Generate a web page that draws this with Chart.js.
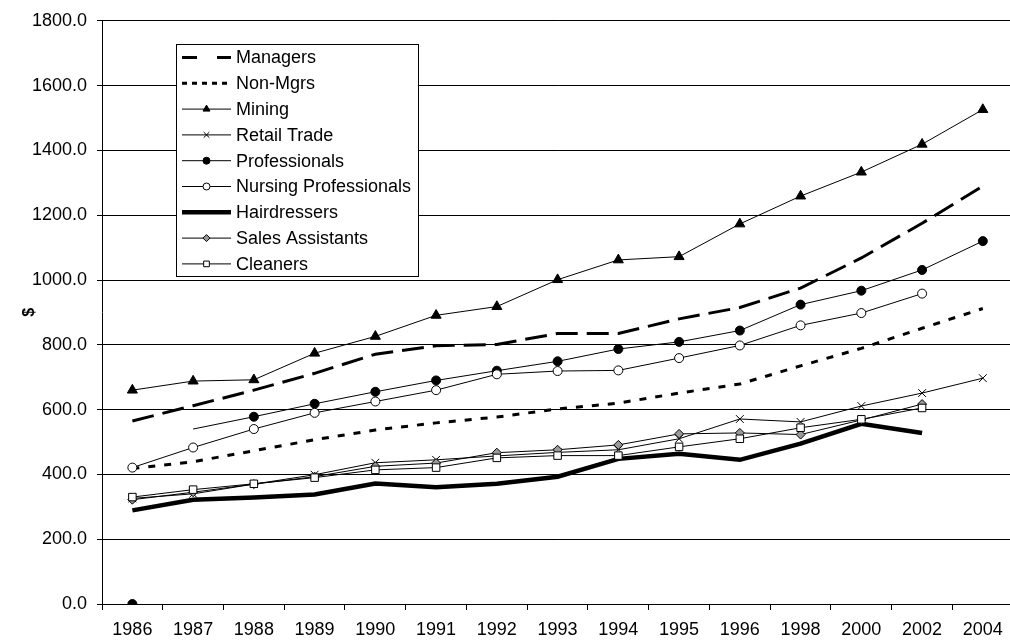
<!DOCTYPE html>
<html>
<head>
<meta charset="utf-8">
<script src="https://cdn.jsdelivr.net/npm/chart.js@4.4.1/dist/chart.umd.min.js"></script>
<style>
    html, body { margin: 0; padding: 0; background: #fff; overflow: hidden; }
    #wrap { width: 1010px; height: 644px; overflow: hidden; }
</style>
</head>
<body>
<div id="wrap"><canvas id="myChart" width="1020" height="644"></canvas></div>
<script>
let years = ['1986', '1987', '1988', '1989', '1990', '1991', '1992', '1993', '1994', '1995', '1996', '1998', '2000', '2002', '2004']

let managers = [565, 612, 660, 712, 771, 797, 801, 835, 835, 880, 915, 975, 1068, 1175, 1290]
let nonMgrs = [418, 439, 473, 507, 537, 559, 577, 602, 620, 651, 679, 735, 789, 851, 912]
let mining = [660, 688, 692, 774, 826, 891, 918, 1001, 1062, 1072, 1173, 1259, 1333, 1419, 1526]
let retail = [326, 340, 370, 399, 436, 445, 457, 468, 476, 510, 571, 562, 611, 651, 697]
let professionals = [0, 540, 578, 618, 655, 690, 720, 749, 787, 809, 844, 924, 967, 1031, 1120]
let nursing = [421, 483, 540, 590, 625, 660, 709, 719, 721, 759, 798, 860, 898, 958, null]
let hairdressers = [289, 322, 329, 338, 372, 360, 371, 393, 448, 464, 445, 495, 556, 528, null]
let sales = [322, 345, 370, 393, 425, 435, 467, 476, 491, 525, 528, 523, 568, 617, null]
let cleaners = [330, 353, 371, 390, 414, 421, 451, 458, 458, 485, 510, 544, 570, 605, null]

let yTicks = { min: 0, max: 1800, step: 200 }

let font = "'Liberation Sans', Arial, sans-serif"
Chart.defaults.font.family = font
Chart.defaults.color = '#000'

let thin = (label, data, style, bg, radius, legendRadius, extra) => Object.assign({
    label: label,
    data: data,
    borderColor: '#000',
    borderWidth: 1,
    pointStyle: style,
    pointRadius: radius,
    pointBackgroundColor: bg,
    pointBorderColor: '#000',
    pointBorderWidth: 1,
    legendRadius: legendRadius,
}, extra || {})

let datasets = [
    { label: 'Managers', data: managers, borderColor: '#000', borderWidth: 3, borderDash: [22, 9], pointRadius: 0, legendDash: [15, 20] },
    { label: 'Non-Mgrs', data: nonMgrs, borderColor: '#000', borderWidth: 3, borderDash: [7, 9], pointRadius: 0, legendDash: [5, 5] },
    thin('Mining', mining, 'triangle', '#000', 5.8, 4),
    thin('Retail Trade', retail, 'crossRot', '#000', 5.5, 4),
    thin('Professionals', professionals, 'circle', '#000', 4.5, 3.5, {
        pointRadius: (c) => c.dataIndex === 1 ? 0 : 4.5,
        segment: { borderColor: (c) => c.p0DataIndex === 0 ? 'rgba(0,0,0,0)' : undefined },
    }),
    thin('Nursing Professionals', nursing, 'circle', '#fff', 4.5, 3.5),
    { label: 'Hairdressers', data: hairdressers, borderColor: '#000', borderWidth: 4.5, pointRadius: 0 },
    thin('Sales Assistants', sales, 'rectRot', '#999', 4.5, 3.5),
    thin('Cleaners', cleaners, 'rect', '#fff', 5.3, 4),
]
datasets.forEach((d, i) => { d.order = datasets.length - i; d.tension = 0; d.fill = false })

// legend box sitting inside the plot, like the Excel one
let boxLegend = {
    id: 'boxLegend',
    afterDraw: (chart) => {
        let c = chart.ctx
        let x = 176.5, y = 44.5, w = 242, h = 232
        c.save()
        c.fillStyle = '#fff'
        c.fillRect(x, y, w, h)
        c.strokeStyle = '#000'
        c.lineWidth = 1
        c.strokeRect(x, y, w, h)
        chart.data.datasets.forEach((ds, i) => {
            let ry = 57.5 + 25.8 * i
            c.beginPath()
            c.setLineDash(ds.legendDash || [])
            c.lineWidth = ds.borderWidth
            c.strokeStyle = '#000'
            c.moveTo(182, ry)
            c.lineTo(231, ry)
            c.stroke()
            c.setLineDash([])
            if (ds.pointStyle) {
                c.fillStyle = ds.pointBackgroundColor
                c.strokeStyle = '#000'
                c.lineWidth = 1
                Chart.helpers.drawPoint(c, { pointStyle: ds.pointStyle, radius: ds.legendRadius, rotation: 0, borderWidth: 1 }, 206.5, ry)
            }
            c.fillStyle = '#000'
            c.font = '18px ' + font
            c.textBaseline = 'middle'
            c.textAlign = 'left'
            c.fillText(ds.label, 236, ry + 1)
        })
        c.restore()
    },
}

let myChart = new Chart(document.getElementById('myChart').getContext('2d'), {
    type: 'line',
    data: {
        labels: years,
        datasets: datasets,
    },
    options: {
        responsive: false,
        animation: false,
        events: [],
        layout: { padding: { top: 18, right: 0, left: 0, bottom: 0 } },
        plugins: {
            legend: { display: false },
            tooltip: { enabled: false },
        },
        scales: {
            x: {
                offset: true,
                grid: { offset: true, drawOnChartArea: false, tickLength: 6, color: '#000' },
                border: { color: '#000' },
                ticks: { font: { size: 18 }, padding: 9, maxRotation: 0, autoSkip: false },
                afterFit: (scale) => { scale.height = 40 },
            },
            y: {
                min: yTicks.min,
                max: yTicks.max,
                grid: { color: '#000', tickLength: 5 },
                border: { color: '#000' },
                ticks: {
                    stepSize: yTicks.step,
                    font: { size: 18 },
                    padding: 10,
                    callback: (v) => v.toFixed(1),
                },
                title: { display: true, text: '$', font: { size: 16, weight: 'bold' }, padding: { top: 20, bottom: 0 } },
                afterFit: (scale) => { scale.width = 102 },
            },
        },
    },
    plugins: [boxLegend],
})
</script>
</body>
</html>
